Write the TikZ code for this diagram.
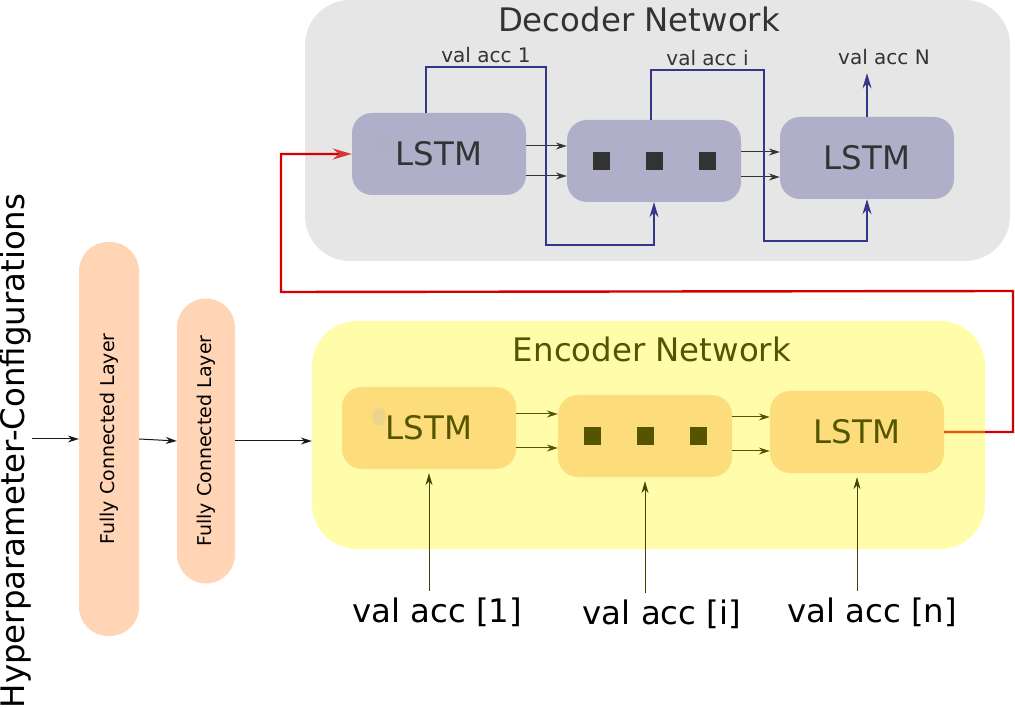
\documentclass[tikz,border=0pt]{standalone}
\usepackage{fontspec}
\setmainfont{DejaVu Sans}
\usepackage{xcolor}
\usepackage{tikz}
\usetikzlibrary{
    positioning,
    arrows.meta,
    backgrounds
}
\definecolor{decbg}{HTML}{E6E6E6}
\definecolor{decbox}{HTML}{AFAFCA}
\definecolor{dectext}{HTML}{333333}
\definecolor{encbg}{HTML}{FFFCAA}
\definecolor{encbox}{HTML}{FDDC7C}
\definecolor{enctext}{HTML}{555500}
\definecolor{fcfill}{HTML}{FFD5B6}
\definecolor{navy}{HTML}{35358A}
\definecolor{loopred}{HTML}{D40000}
\definecolor{tipred}{HTML}{D83535}
\definecolor{loopor}{HTML}{E85A00}

\newcommand{\fntbig}{\fontsize{32.4}{38}\selectfont}
\newcommand{\fntsmall}{\fontsize{20}{24}\selectfont}
\newcommand{\fntfc}{\fontsize{19}{22}\selectfont}
\newcommand{\squaredots}{\rule{17pt}{18pt}\hspace{36pt}\rule{17pt}{18pt}\hspace{36pt}\rule{17pt}{18pt}}

\tikzset{
    netbox/.style={
        rectangle, rounded corners=45pt, inner sep=0pt
    },
    lstmbox/.style={
        rectangle, rounded corners=20pt,
        minimum width=174pt, minimum height=82pt,
        inner sep=0pt, font=\fntbig
    },
    declstm/.style={
        lstmbox, fill=decbox, text=dectext
    },
    enclstm/.style={
        lstmbox, fill=encbox, text=enctext
    },
    fclayer/.style={
        rectangle, fill=fcfill, rotate=90,
        rounded corners=29pt, inner sep=0pt, font=\fntfc
    },
    nettitle/.style={
        font=\fntbig
    },
    vallabel/.style={
        font=\fntsmall, text=dectext
    }
}

\begin{document}
\begin{tikzpicture}[x=1pt, y=-1pt,
	arrow/.style={-{Stealth[length=11pt, width=7pt]}, line width=1pt, draw=black!90},
	decarrow/.style={-{Stealth[length=11pt, width=7pt]}, line width=1pt, draw=dectext},
	encarrow/.style={-{Stealth[length=11pt, width=7pt]}, line width=1pt, draw=enctext},
	inarrow/.style={-{Stealth[length=12pt, width=7pt]}, line width=1pt, draw=enctext!80!black},
	bluearrow/.style={-{Stealth[length=15pt, width=9pt]}, line width=2pt, draw=navy},
	redarrow/.style={-{Stealth[length=19pt, width=11pt]}, line width=2.4pt, draw=loopred}
	]
	
	\useasboundingbox (0,0) rectangle (1015,708);
	
	% BACKGROUND ZONES
	\node (decoder) [netbox, fill=decbg, minimum width=705pt, minimum height=261pt] at (657.5,130.5) {};
	\node (encoder) [netbox, fill=encbg, minimum width=673pt, minimum height=228pt] at (648.5,435) {};
	\node (dectitle) [nettitle, text=dectext] at (639,19) {Decoder Network};
	\node (enctitle) [nettitle, text=enctext] at (652,349) {Encoder Network};
	
	% NODES
	\node (hyper) [font=\fntbig, rotate=90, inner sep=0pt] at (16,451) {Hyperparameter-Configurations};
	\node (fc1) [fclayer, minimum width=394pt, minimum height=60pt] at (109,439) {Fully Connected Layer};
	\node (fc2) [fclayer, minimum width=285pt, minimum height=58pt] at (206,441) {Fully Connected Layer};
	
	\node (e1) [enclstm] at (429,428) {LSTM};
	\node (e2) [enclstm] at (645,436) {\squaredots};
	\node (e3) [enclstm] at (857,432) {LSTM};
	\node (d1) [declstm] at (439,154) {LSTM};
	\node (d2) [declstm] at (654,161) {\squaredots};
	\node (d3) [declstm] at (867,158) {LSTM};
	
	\fill[gray!60, opacity=0.3] (385,143) ellipse (7pt and 8pt);
	\fill[gray!50, opacity=0.25] (379,417) ellipse (7pt and 9pt);
	
	\node (in1) [font=\fntbig] at (437,612) {val acc [1]};
	\node (ini) [font=\fntbig] at (662,614) {val acc [i]};
	\node (inn) [font=\fntbig] at (872,612) {val acc [n]};
	\node (outn) [vallabel] at (884,57) {val acc N};
	
	\coordinate (b1) at (546,67);
	\coordinate (b2) at (546,245);
	\coordinate (b3) at (764,70);
	\coordinate (b4) at (764,241);
	\coordinate (r1) at (1013,291);
	\coordinate (r2) at (281,292);
	
	% ARROWS
	\draw[arrow] (hyper.south |- fc1.north) -- (fc1.north);
	\draw[arrow] (fc1.south) -- (fc2.north);
	\draw[arrow] (fc2.south) -- (fc2.south -| encoder.west);
	
	\draw[encarrow] ([yshift=14pt]e1.east) -- ([yshift=14pt]e1.east -| e2.west);
	\draw[encarrow] ([yshift=-20pt]e1.east) -- ([yshift=-20pt]e1.east -| e2.west);
	\draw[encarrow] ([yshift=19pt]e2.east) -- ([yshift=19pt]e2.east -| e3.west);
	\draw[encarrow] ([yshift=-15pt]e2.east) -- ([yshift=-15pt]e2.east -| e3.west);
	
	\draw[decarrow] ([yshift=8pt]d1.east) -- ([yshift=8pt]d1.east -| d2.west);
	\draw[decarrow] ([yshift=-22pt]d1.east) -- ([yshift=-22pt]d1.east -| d2.west);
	\draw[decarrow] ([yshift=9pt]d2.east) -- ([yshift=9pt]d2.east -| d3.west);
	\draw[decarrow] ([yshift=-16pt]d2.east) -- ([yshift=-16pt]d2.east -| d3.west);
	
	\draw[inarrow, shorten >=4pt, shorten <=3pt] (e1.south |- in1.north) -- (e1.south);
	\draw[inarrow, shorten >=4pt, shorten <=3pt] (e2.south |- ini.north) -- (e2.south);
	\draw[inarrow, shorten >=4pt, shorten <=3pt] (e3.south |- inn.north) -- (e3.south);
	
	\draw[bluearrow] ([xshift=-13pt]d1.north) |- node (out1) [vallabel, pos=0.75, above] {val acc 1} (b1) -- (b2) -| (d2.south);
	\draw[bluearrow] ([xshift=-3pt]d2.north) |- node (outi) [vallabel, pos=0.75, above] {val acc i} (b3) -- (b4) -| (d3.south);
	\draw[bluearrow, shorten >=5pt] (d3.north) -- (d3.north |- outn.south);
	
	% LOOP FROM ENCODER TO DECODER
	\draw[redarrow, -{Stealth[length=19pt, width=11pt, color=tipred]}] (e3.east) -| (r1) -- (r2) |- (d1.west);
	\draw[line width=2.4pt, draw=loopor] (e3.east) -- (e3.east -| encoder.east);
	
\end{tikzpicture}
\end{document}
